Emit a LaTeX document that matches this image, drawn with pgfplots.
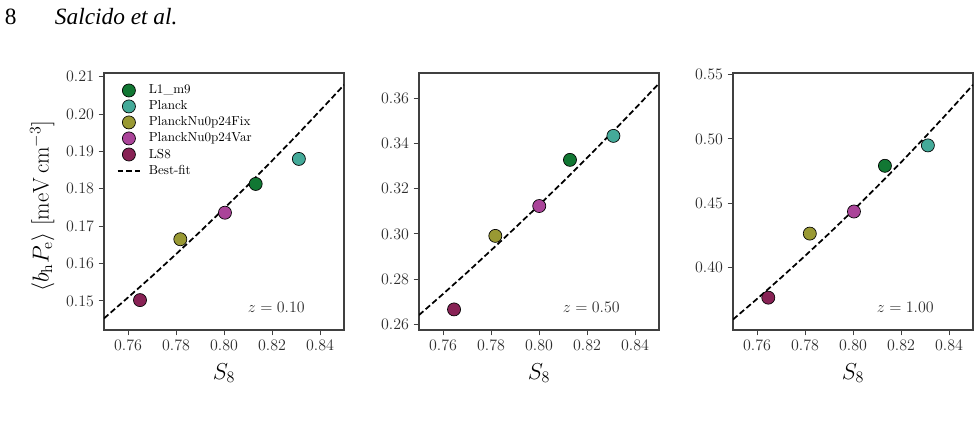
\documentclass[border=0pt]{standalone}
\usepackage{fontspec}
\usepackage{pgfplots}
\pgfplotsset{compat=1.18}
\newfontfamily\headfont{Liberation Serif}
\definecolor{cLone}{HTML}{117733}
\definecolor{cPlanck}{HTML}{44AA99}
\definecolor{cFix}{HTML}{999933}
\definecolor{cVar}{HTML}{AA4499}
\definecolor{cLS}{HTML}{882255}
\definecolor{axgray}{gray}{0.25}
\pgfplotsset{
  panel/.style={
    scale only axis, width=180pt, height=192.75pt,
    xmin=0.75, xmax=0.85,
    xtick={0.76,0.78,0.80,0.82,0.84},
    xticklabels={0.76,0.78,0.80,0.82,0.84},
    tick label style={font=\fontsize{12}{14}\selectfont, text=axgray!70!black},
    yticklabel style={/pgf/number format/.cd, fixed, fixed zerofill, precision=2},
    axis line style={draw=axgray, line width=0.8pt},
    tick style={draw=axgray, line width=0.7pt},
    major tick length=4pt, tick align=outside,
    xtick pos=lower, ytick pos=left,
    xlabel={$S_8$},
    xlabel style={font=\fontsize{17}{19}\selectfont, at={(axis description cs:0.5,-0.167)}, anchor=center},
    clip=true,
  },
  pt/.style={only marks, mark=*, mark size=4.9pt, mark options={draw=black, line width=0.5pt, fill=#1}},
  fit/.style={black, line width=1.3pt, dash pattern=on 4.4pt off 2.2pt},
}
\begin{document}
\begin{tikzpicture}
\path[use as bounding box] (0,0) rectangle (735pt,315.75pt);
\node[anchor=base west, inner sep=0pt, font=\headfont\fontsize{17.5}{20}\selectfont] at (3.5pt,297pt) {8};
\node[anchor=base west, inner sep=0pt, font=\headfont\itshape\fontsize{17.5}{20}\selectfont] at (41pt,297pt) {Salcido et al.};

% Panel 1
\begin{axis}[panel, at={(78pt,68.25pt)}, anchor=south west,
  ymin=0.1422, ymax=0.211,
  ytick={0.15,0.16,0.17,0.18,0.19,0.20,0.21},
  ylabel={$\langle b_{\mathrm{h}} P_{\mathrm{e}} \rangle\ [\mathrm{meV\,cm^{-3}}]$},
  ylabel style={font=\fontsize{17}{19}\selectfont, at={(axis description cs:-0.258,0.4825)}, anchor=center},
  legend style={at={(0.035,0.975)}, anchor=north west, draw=none, fill=none,
    font=\fontsize{9.8}{11}\selectfont, cells={anchor=west}, row sep=-0.3pt,
    /tikz/every odd column/.append style={column sep=3.75pt}},
]
\addplot[fit, forget plot] coordinates {(0.75,0.1453) (0.76,0.1509) (0.77,0.1566) (0.78,0.1625) (0.79,0.1685) (0.80,0.1747) (0.81,0.1810) (0.82,0.1875) (0.83,0.1941) (0.84,0.2009) (0.85,0.2078)};
\addplot[pt=cLone] coordinates {(0.8132,0.1813)}; \addlegendentry{L1\_m9}
\addplot[pt=cPlanck] coordinates {(0.8312,0.1880)}; \addlegendentry{Planck}
\addplot[pt=cFix] coordinates {(0.7818,0.1665)}; \addlegendentry{PlanckNu0p24Fix}
\addplot[pt=cVar] coordinates {(0.8004,0.1736)}; \addlegendentry{PlanckNu0p24Var}
\addplot[pt=cLS] coordinates {(0.7650,0.1502)}; \addlegendentry{LS8}
\addlegendimage{fit}\addlegendentry{Best-fit}
\node[anchor=east, inner sep=0pt, font=\fontsize{13}{15}\selectfont, text=axgray!70!black] at (rel axis cs:0.8375,0.09) {$z = 0.10$};
\end{axis}

% Panel 2
\begin{axis}[panel, at={(314.25pt,68.25pt)}, anchor=south west,
  ymin=0.2575, ymax=0.3711,
  ytick={0.26,0.28,0.30,0.32,0.34,0.36},
]
\addplot[fit] coordinates {(0.75,0.2641) (0.76,0.2734) (0.77,0.2829) (0.78,0.2927) (0.79,0.3026) (0.80,0.3127) (0.81,0.3230) (0.82,0.3336) (0.83,0.3443) (0.84,0.3553) (0.85,0.3665)};
\addplot[pt=cLone] coordinates {(0.8129,0.3327)};
\addplot[pt=cPlanck] coordinates {(0.8310,0.3433)};
\addplot[pt=cFix] coordinates {(0.7818,0.2991)};
\addplot[pt=cVar] coordinates {(0.8001,0.3123)};
\addplot[pt=cLS] coordinates {(0.7646,0.2666)};
\node[anchor=east, inner sep=0pt, font=\fontsize{13}{15}\selectfont, text=axgray!70!black] at (rel axis cs:0.8375,0.09) {$z = 0.50$};
\end{axis}

% Panel 3
\begin{axis}[panel, at={(549.75pt,68.25pt)}, anchor=south west,
  ymin=0.3511, ymax=0.5513,
  ytick={0.40,0.45,0.50,0.55},
]
\addplot[fit] coordinates {(0.75,0.3593) (0.76,0.3753) (0.77,0.3918) (0.78,0.4088) (0.79,0.4262) (0.80,0.4442) (0.81,0.4627) (0.82,0.4817) (0.83,0.5013) (0.84,0.5214) (0.85,0.5421)};
\addplot[pt=cLone] coordinates {(0.8133,0.4790)};
\addplot[pt=cPlanck] coordinates {(0.8312,0.4949)};
\addplot[pt=cFix] coordinates {(0.7820,0.4262)};
\addplot[pt=cVar] coordinates {(0.8004,0.4434)};
\addplot[pt=cLS] coordinates {(0.7647,0.3763)};
\node[anchor=east, inner sep=0pt, font=\fontsize{13}{15}\selectfont, text=axgray!70!black] at (rel axis cs:0.8375,0.09) {$z = 1.00$};
\end{axis}
\end{tikzpicture}
\end{document}
